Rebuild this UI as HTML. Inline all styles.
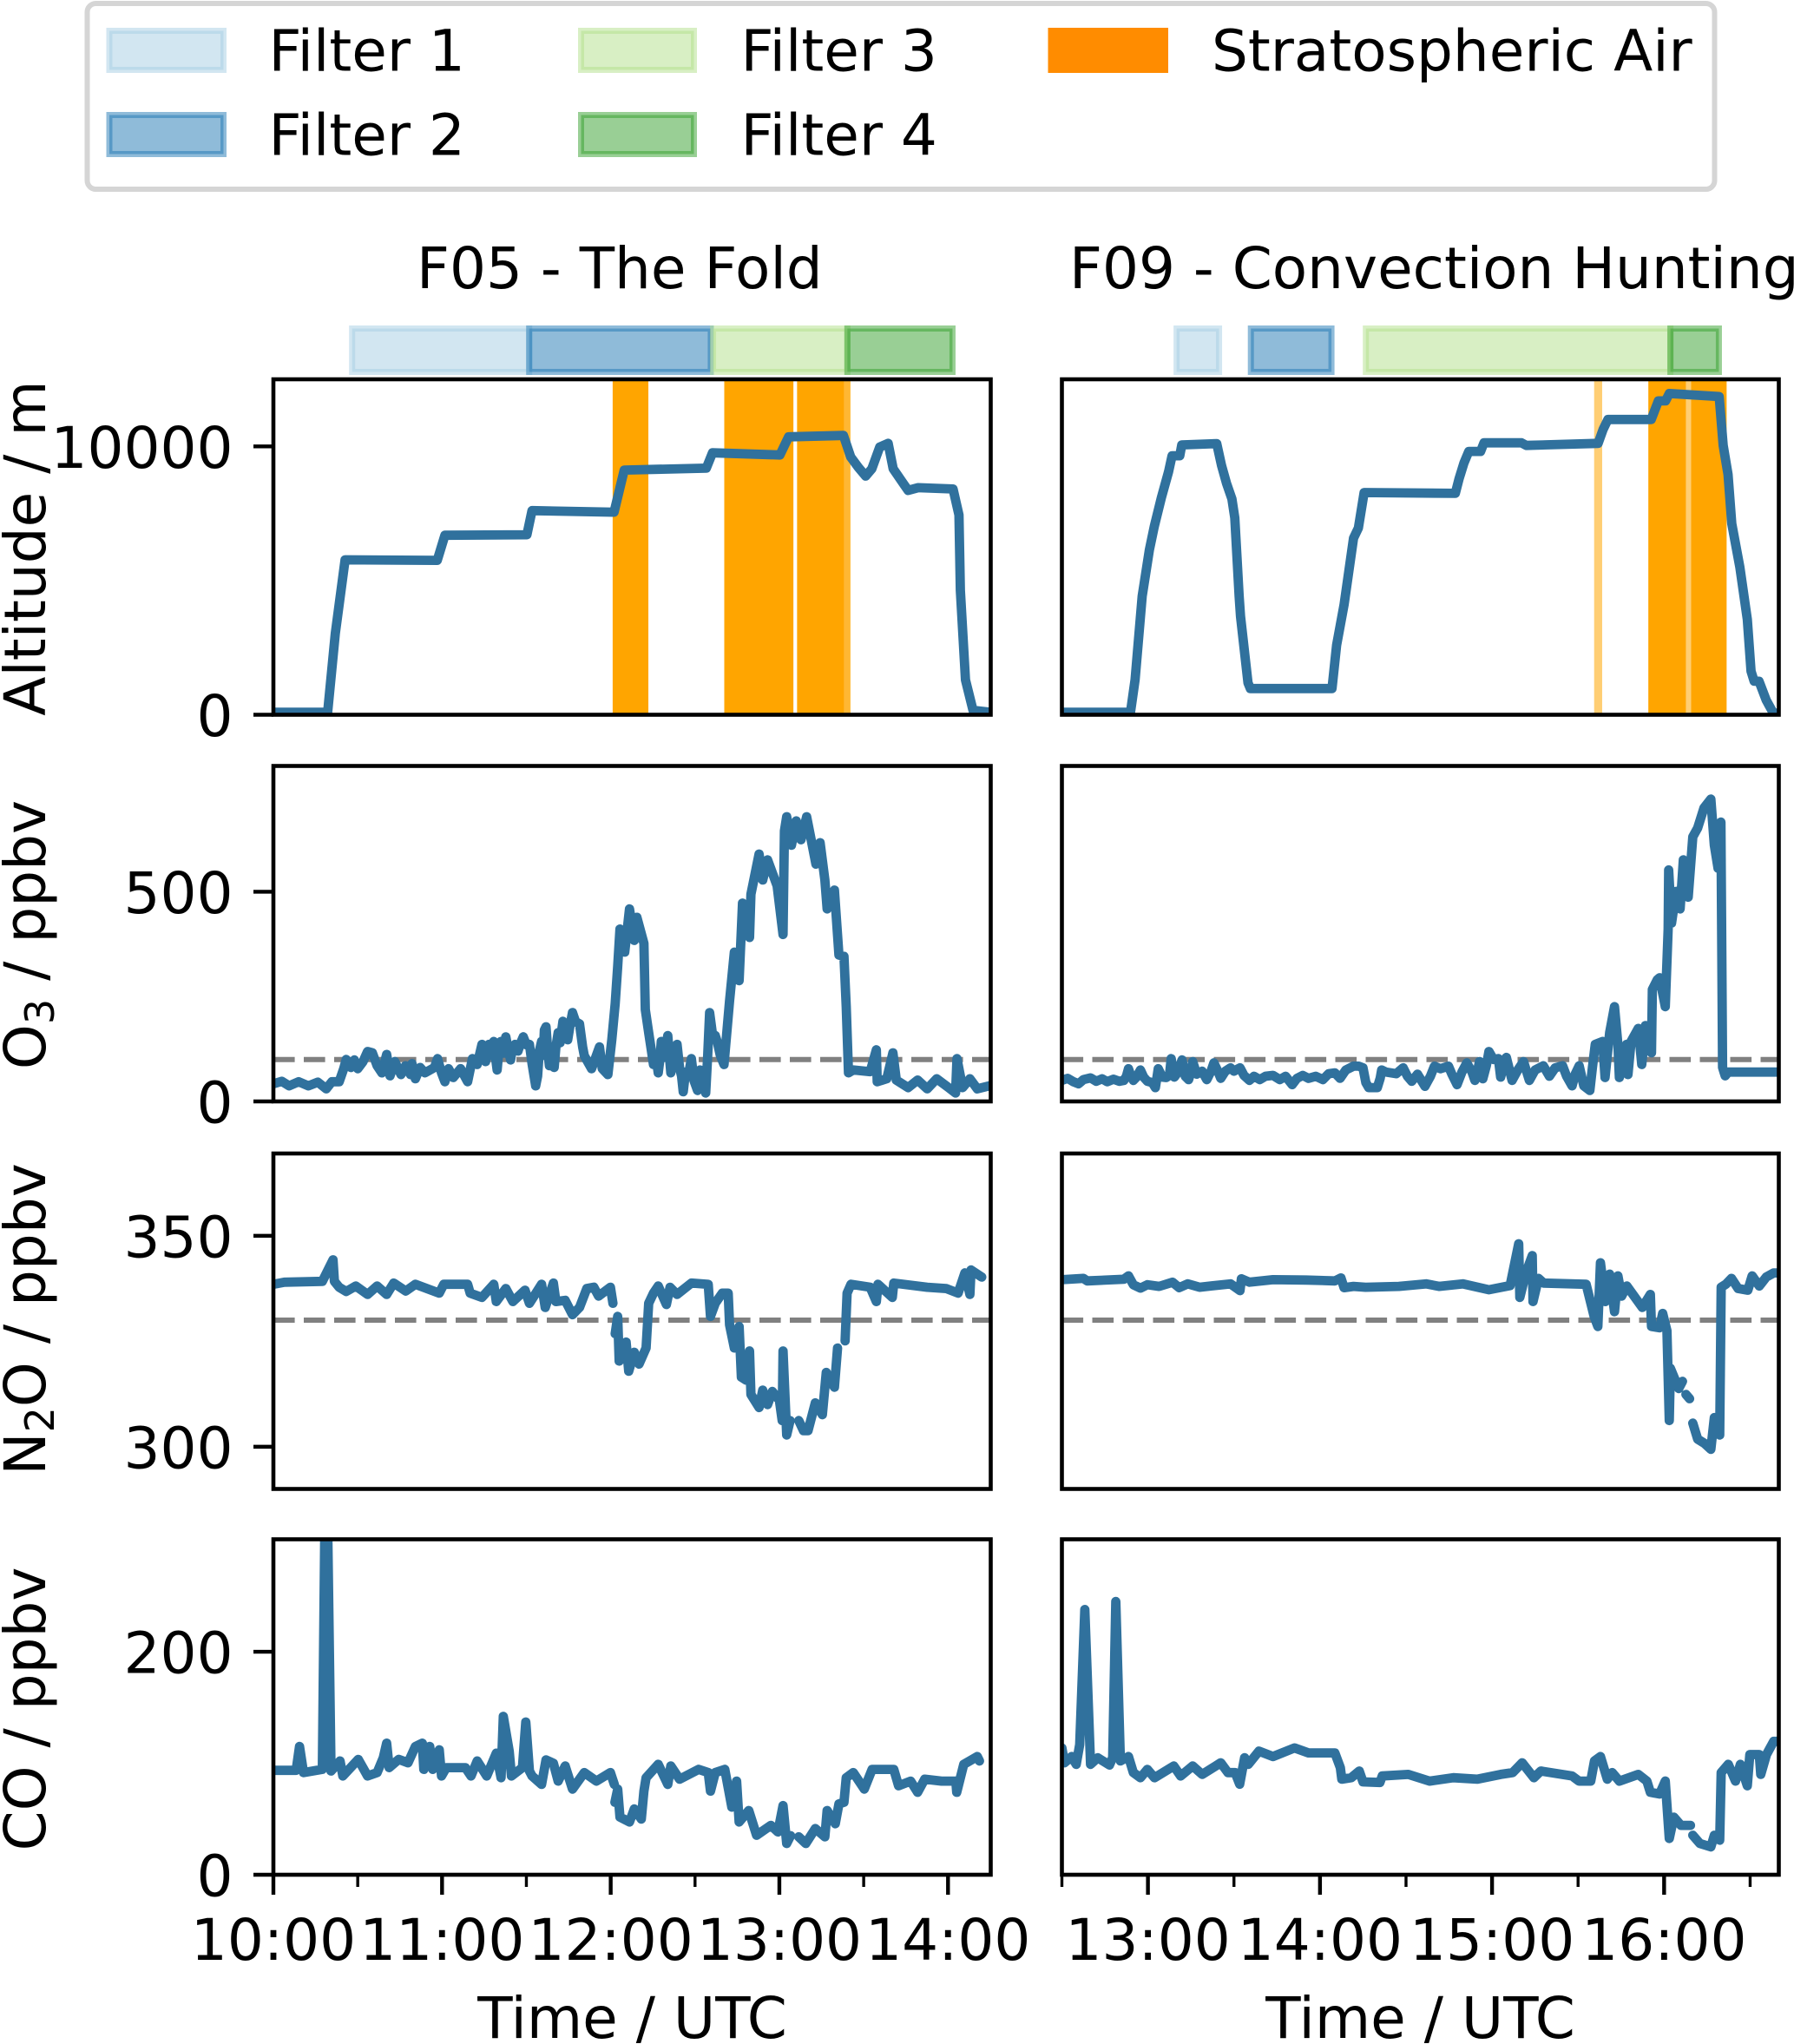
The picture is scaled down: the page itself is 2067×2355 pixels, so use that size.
<!DOCTYPE html>
<html lang="en">
<head>
<meta charset="utf-8">
<title>F05 and F09 flight time series</title>
<style>
html,body{margin:0;padding:0;background:#fff;width:2067px;height:2355px;overflow:hidden}
svg{display:block}
text{font-family:"DejaVu Sans","Liberation Sans",sans-serif;font-size:66px;fill:#000}
.f1{fill:#a6cee3;fill-opacity:.5;stroke:#a6cee3;stroke-opacity:.5;stroke-width:7}
.f2{fill:#1f78b4;fill-opacity:.5;stroke:#1f78b4;stroke-opacity:.5;stroke-width:7}
.f3{fill:#b2df8a;fill-opacity:.5;stroke:#b2df8a;stroke-opacity:.5;stroke-width:7}
.f4{fill:#33a02c;fill-opacity:.5;stroke:#33a02c;stroke-opacity:.5;stroke-width:7}
</style>
</head>
<body>
<svg id="figure" xmlns="http://www.w3.org/2000/svg" width="2067" height="2355" viewBox="0 0 2067 2355">
  <g>
    <rect x="100.5" y="4" width="1875" height="214" rx="10" ry="10" fill="#fff" stroke="#d5d5d5" stroke-width="6"/>
    <rect class="f1" x="126" y="35.5" width="131.5" height="45"/>
    <text x="309.5" y="81.5">Filter 1</text>
    <rect class="f2" x="126" y="132.5" width="131.5" height="45"/>
    <text x="309.5" y="178.5">Filter 2</text>
    <rect class="f3" x="669.5" y="35.5" width="130" height="45"/>
    <text x="853.5" y="81.5">Filter 3</text>
    <rect class="f4" x="669.5" y="132.5" width="130" height="45"/>
    <text x="853.5" y="178.5">Filter 4</text>
    <rect x="1207.5" y="32" width="138.5" height="52" fill="#ff8c00"/>
    <text x="1396" y="81.5">Stratospheric Air</text>
  </g>
  <text x="480" y="332">F05 - The Fold</text>
  <text x="1232" y="332">F09 - Convection Hunting</text>
  <text text-anchor="middle" transform="translate(52 631.5) rotate(-90)">Altitude / m</text>
  <text text-anchor="middle" transform="translate(52 1077) rotate(-90)">O<tspan dy="10" font-size="46">3</tspan><tspan dy="-10"> / ppbv</tspan></text>
  <text text-anchor="middle" transform="translate(52 1520) rotate(-90)">N<tspan dy="10" font-size="46">2</tspan><tspan dy="-10">O / ppbv</tspan></text>
  <text text-anchor="middle" transform="translate(52 1969) rotate(-90)">CO / ppbv</text>
  <text text-anchor="middle" x="728.5" y="2348">Time / UTC</text>
  <text text-anchor="middle" x="1636.5" y="2348">Time / UTC</text>
</svg>
<script>
// All times are minutes after the start of the panel's x axis (F05 10:00, F09 12:30).
const f05MajorTickMinutes = [0, 60, 120, 180, 240];
const f05TickLabels = ['10:00', '11:00', '12:00', '13:00', '14:00'];
const f05MinorTickMinutes = [30, 90, 150, 210];
const f09MajorTickMinutes = [30, 90, 150, 210];
const f09TickLabels = ['13:00', '14:00', '15:00', '16:00'];
const f09MinorTickMinutes = [0, 60, 120, 180, 240];

const altitudeTicks = [0, 10000];
const o3Ticks = [0, 500];
const n2oTicks = [300, 350];
const coTicks = [0, 200];
const o3Threshold = 100;
const n2oThreshold = 330;

const f05FilterStart = [28, 91, 156.4, 204.2];
const f05FilterEnd = [91, 155.6, 204.2, 241.6];
const f09FilterStart = [40, 65.9, 106, 212.2];
const f09FilterEnd = [54.8, 94, 212.2, 229.1];

const f05StratStart = [120.7, 160.4, 186.3];
const f05StratEnd = [133.4, 185, 203.1];
const f05FaintStart = [203.1];
const f05FaintEnd = [205.3];
const f09StratStart = [204.5, 219.4];
const f09StratEnd = [217.6, 231.8];
const f09FaintStart = [185.6, 217.6];
const f09FaintEnd = [188.4, 219.4];

const f05AltTime = [0,19.3,22,25.5,58.3,61,90.2,92,121.2,124.8,154,156.2,180.2,183.3,202.8,205.4,208.1,210.7,212.9,215.7,218.7,220.5,224,225.8,229.4,241.8,243.9,244.4,246.2,248.9,255.2];
const f05AltValues = [91,91,3022,5772,5752,6689,6709,7606,7550,9117,9187,9762,9681,10356,10406,9601,9218,8895,9167,9973,10114,9167,8628,8361,8462,8412,7445,4634,1300,166,91];
const f09AltTime = [0,23.9,25.5,28,30.5,32.2,34.7,37.2,38.4,41.1,41.8,54,55.7,57.4,59.3,60.3,61.8,62.3,64.9,65.7,94.2,95.8,98.4,101.7,103.4,105.4,137.2,138.5,140.2,141.9,146,147.2,160.3,162,187,188.7,190.4,205.5,208,210.5,211.8,229.2,230.6,232.3,233.6,236.4,239,240.3,241.4,243.1,245.6,248.1,249.9];
const f09AltValues = [91,91,1300,4422,6145,7012,8089,9057,9651,9651,10054,10104,9278,8633,8039,7334,4422,3667,1189,977,977,2589,4100,6578,6961,8281,8251,8795,9379,9812,9812,10134,10134,10034,10114,10628,11001,11001,11696,11696,11968,11857,10034,8956,7122,5500,3556,1622,1249,1249,544,60,60];

const f05O3Time = [0,3,5.6,9,12.4,15.8,18.8,20.8,23.4,25,25.9,27.6,28.8,30,31.9,33.5,35.2,36.9,38.6,40.3,41.5,43.2,45.4,47,48.8,49.3,50.5,52.2,53.9,57.3,58.4,59.8,61,62.3,64,66.6,69.1,70.8,72.5,
  74.2,75,75.5,76,76.7,77.5,78.4,79,79.6,80.2,81,82,82.7,83.5,84.4,85,86,87,88,88.9,90,91.1,92,93.3,94,94.6,95.4,96,96.4,97,97.6,98.2,99,99.9,100.5,101.3,102,103,104,104.7,105.5,106.4,107.5,108.9,110,110.6,
  113.2,116,117,119,120.4,121.6,122.5,123.3,125,126.7,128.4,129.3,131.8,132.3,
  133.5,134.5,135.2,136,136.9,137.5,138,139,140.3,141,141.4,142.5,143.6,144.5,145.2,145.8,146.6,147.6,148.7,149.6,150.9,151.8,152.8,153.8,154.5,155.2,156.2,157.2,158,159,160.3,
  162.3,164,165.7,166.9,169.4,169.9,172.8,174.1,175.8,179.2,181.3,181.8,182.6,184.3,186,187.7,189.7,191.9,193,194.5,196.2,197,199.6,201.2,203,203.8,204.6,206.3,212.3,214.5,214.8,218.2,220.4,221.6,225.8,229.2,232.6,236,240.2,242.7,243.2,245.2,247.8,250.4,254.6];
const f05O3Values = [42,48,37,47,37,46,30,47,47,78,100,81,99,78,95,119,116,85,68,112,61,95,64,85,64,90,54,81,68,81,102,68,47,78,57,78,47,102,88,
  136,100,95,130,136,110,143,105,75,120,143,115,154,125,99,125,136,120,140,154,135,136,90,37,60,120,143,110,170,178,120,85,120,81,130,164,140,191,150,147,180,212,190,185,130,109,
  78,130,78,64,147,233,322,411,356,459,384,439,377,219,
  164,120,88,110,68,100,143,105,157,100,68,105,136,80,60,23,70,60,102,50,26,75,50,20,110,212,160,157,140,110,88,
  240,356,288,473,391,494,590,528,576,514,398,645,679,611,669,624,679,604,566,617,528,459,504,349,346,226,68,75,71,123,47,54,116,51,33,51,30,54,33,20,102,33,54,30,37];
const f09O3Time = [0,2,4,5.8,7.5,10,12,14,15.8,18,20,21.6,22.5,23.2,24,24.9,26,27.4,28.5,29.8,31.5,32.6,33,33.6,35,36.4,37.5,38.1,39.2,40.5,41.9,43,44.2,45,45.6,47,48.9,50.5,52,53,54.5,55.4,57,58.8,60,61.5,62.1,63.5,65.4,67,69,71,73.6,76,78,80.3,82,84,86,88.5,91,93,95.2,97,99,101.7,103.5,105,106,107,110,111,111.5,113,116.6,119,120.5,122,124,126.6,128.5,129.9,132,134.8,136,137.8,139.5,141.2,143,144,145,145.6,146.8,148,148.9,150.5,152.2,153,154,155,157,159,161,163,165,167.9,170,172,174.6,176,177.9,179,180.4,182,184.1,185,
  186,188.6,189.4,191,192.7,193.9,194.4,196.9,197.4,198.5,201,202.2,203.5,205.6,205.9,207.6,208.4,210.4,211.4,211.6,212.6,214.2,215.6,216.7,218.4,220,221.7,223.9,226.3,227.5,228.8,229.8,230.4,231.3,232.4,249.9];
const f09O3Values = [50,55,47,42,52,56,48,54,47,53,48,50,60,78,62,50,58,75,58,48,45,33,50,78,58,57,62,102,58,70,99,60,52,70,95,65,72,52,72,92,70,55,72,80,72,78,80,62,50,60,52,60,62,52,60,40,55,62,55,60,52,66,68,55,75,84,84,80,45,33,33,55,75,70,66,80,60,48,65,36,60,84,78,84,65,40,70,92,70,50,75,95,54,85,119,100,102,58,85,105,50,75,95,50,75,85,60,80,85,60,37,65,85,37,26,80,
  136,143,57,164,226,136,57,136,64,143,174,88,181,116,267,290,295,226,411,552,425,501,459,576,487,631,652,700,721,611,556,666,81,61,70,70];

const f05N2OTime = [0,3.9,17.4,21.2,21.7,23.4,25.9,29.3,33.5,36.9,40.3,42.8,47.1,50.5,59,60.6,69.1,70,74.2,78.4,79.3,82.7,85.2,89.5,91.1,95.4,96.7,99.6,100.5,103.8,106.4,108.9,111.5,114,115.7,119.9,120.8,121,121.6,122.5,123,125.5,126.4,128.4,130.1,132.6,133.5,135.2,136.9,139.8,141.1,143.6,148.7,154.7,155.5,157.2,159.7,161.8,162.3,164,165.7,166.5,168.2,169.4,169.9,172.8,174.1,175.8,177.5,180,181,181.3,182.6,183.8,185,186.9,188.6,190.2,192.8,195.3,196.7,199.6,200.7,202,203.4,204.1,205.5,212.3,214.5,215.1,220.2,220.7,232.6,239.4,243.6,246,247.8,248.2,252];
const f05N2OValues = [338.5,339,339.2,344.3,339.2,337.8,336.8,338.1,336.1,338.1,336.1,338.8,336.9,338.5,336.4,338.5,338.5,336.4,335.4,338.5,334.4,337.5,334.4,337.1,334,338.5,333,338.8,334.4,334.7,331.3,333,337.5,337.8,335.7,337.8,334,null,326.8,330.9,320.3,324.8,317.9,322.4,319.6,323.4,334,336.4,338.1,333.7,337.8,336.1,338.8,338.5,330.9,334,336.4,336.4,328.9,323.4,328.5,316.5,315.8,322.7,312.4,309.3,313.4,310,313.1,311,306.2,322.7,302.8,306.2,null,306.2,303.8,303.8,310.4,307.6,317.6,314.1,323.4,null,325.1,336.4,338.5,337.8,334.4,338.5,335.4,338.8,337.8,337.5,336.4,341.2,336.1,341.9,340.2];
const f09N2OTime = [0,7.5,8.8,21.6,23.2,24.9,27.4,29.8,33.9,38.6,40.9,43.9,48,58.8,62.1,62.6,65.4,73.6,85.2,95.2,97.3,98.4,101.7,105.9,117.5,127,131.5,139.8,148.9,156.3,159.3,159.7,161.8,164,164.3,166.2,168,182.8,185.6,186.9,187.8,189.5,191,192.7,193.9,195.2,197,202.4,205.2,205.6,208.4,209.5,211,211.8,212.2,215.1,216.4,216.9,217.6,218.9,219.4,220,221.7,224.1,226.3,227.5,229.4,229.9,231.5,233.5,235.8,239.2,240.7,243.2,245.6,248.2,249.9];
const f09N2OValues = [339.6,339.9,339.3,339.7,340.5,338.4,337.6,338.4,338,339,337.7,338.6,337.8,338.6,337,339.8,339,339.6,339.5,339.3,340,337.7,338,337.8,338,338.6,338,338.6,337.2,338.2,348.1,335.4,341.2,345.3,334.4,339.9,338.8,338.5,330.9,328.5,343.6,334.4,340.9,332,340.5,335.7,338.1,333,336.1,328.5,328.2,331.6,327.5,306.2,318.6,313.8,315.5,null,312.4,311.4,null,305.6,301.8,300.8,299.4,306.9,302.8,337.8,338.5,339.9,337.5,337.1,340.5,338.1,340.2,341.2,341.2];

const f05COTime = [0,8.1,9.3,10.7,17.4,18.3,19.3,20.5,23.7,24.7,30.2,33.5,36.9,39.1,40.3,41.2,44.6,47.9,50.5,53,53.5,55.6,56.7,59,59.8,61.5,68.3,70.3,72.5,75.9,79.3,81,81.8,83.9,84.7,88.6,89.8,91.1,92,95.4,97,99.6,101.3,103.8,106.4,110.6,114.9,119.9,121.3,121.4,121.5,122.5,123.3,126.7,128.4,130.9,131.8,132.6,136.9,140.3,141.4,144.5,151.3,154.7,155.5,157.2,160.6,163.1,164.8,165.7,169.1,171.9,177,179.5,181.3,182.6,184,185,186.9,189.4,192.8,196.2,197,199.9,201.2,203,203.8,206.3,210.2,213,220.7,222.4,226.7,229.2,231.7,237.7,242.8,243.1,245.6,250.4,251.2];
const f05COValues = [93.6,93.6,115,91.6,94.5,315,315,93,102,88.6,103.4,88.6,91.6,104.9,118,96,103.4,100.4,115,118,94.5,115,94.5,112,88.6,96,96,88.6,102,88.6,109,87,142,110.8,88.6,96,137,93,88.6,81,103,100,84,97.5,76.8,91.6,84,91.6,81,null,65,76.8,51.7,47.3,59,50,75,87,99,81,97.5,85.7,94.5,91.6,75,91.6,94.5,60.6,84,47.3,57.6,35.4,44.3,38.4,62,28,35,null,34,28,41.4,34,57.6,45.8,63.5,65,87,91.6,76.8,94.5,94.5,79.8,84,73.9,85.7,84,84,73.9,99,106,102];
const f09COTime = [0,0.9,3.4,5,6.2,8,10,12.5,16.6,17.7,18.8,20.4,23.2,24.9,27.4,29.8,32.3,39,41.4,45.6,48.9,55.4,57.9,60.4,62,63.7,65,68.7,73.6,81.1,86,95.2,97.1,97.6,100.9,103.7,105,110.9,111.7,120.8,128.2,136.5,144.8,153,157.2,160.5,164.6,167,177.9,180.3,184.4,185.7,187.8,190.2,191.9,194.4,201,204,205.2,208.4,210.4,211.8,213.4,215.9,219.2,219.6,220,222.5,226.3,227.5,229.4,229.9,232.4,234.9,236.6,239,239.9,243.2,243.7,245.7,248.2,249.9];
const f09COValues = [113.7,100.4,106,99,116.7,237.8,99,104.9,98.4,105,245,102,106,91.6,87,94.5,87,97.5,88.6,97.5,90,100.4,91.6,91.6,81.2,104.9,99,110.8,106,113.7,109.3,109.3,96,85.7,87,93,83.3,82.7,88.6,90,84,87,85.7,90,91.6,100.4,87,93,88.6,84,84,102,106,85.7,91.6,84,90,84,73.9,72.4,84,32.5,51.7,44.3,44.3,null,35.4,28,25,35.4,31,91.6,99,84,99,79.8,107.8,107.8,90,107.8,119.6,119.6];

const svgNS = 'http://www.w3.org/2000/svg';
const figure = document.getElementById('figure');

const columns = [
  { id: 'f05', left: 315, right: 1141.5, maxMinutes: 255.2, major: f05MajorTickMinutes, labels: f05TickLabels, minor: f05MinorTickMinutes,
    filterStart: f05FilterStart, filterEnd: f05FilterEnd, stratStart: f05StratStart, stratEnd: f05StratEnd, faintStart: f05FaintStart, faintEnd: f05FaintEnd, faintOpacity: 0.8,
    series: [[f05AltTime, f05AltValues], [f05O3Time, f05O3Values], [f05N2OTime, f05N2OValues], [f05COTime, f05COValues]] },
  { id: 'f09', left: 1223.5, right: 2049.5, maxMinutes: 250, major: f09MajorTickMinutes, labels: f09TickLabels, minor: f09MinorTickMinutes,
    filterStart: f09FilterStart, filterEnd: f09FilterEnd, stratStart: f09StratStart, stratEnd: f09StratEnd, faintStart: f09FaintStart, faintEnd: f09FaintEnd, faintOpacity: 0.55,
    series: [[f09AltTime, f09AltValues], [f09O3Time, f09O3Values], [f09N2OTime, f09N2OValues], [f09COTime, f09COValues]] }
];
const rows = [
  { id: 'altitude', top: 437, bottom: 823.5, min: 0, max: 12500, ticks: altitudeTicks, threshold: null },
  { id: 'o3', top: 882.5, bottom: 1269, min: 0, max: 800, ticks: o3Ticks, threshold: o3Threshold },
  { id: 'n2o', top: 1329, bottom: 1715.5, min: 290, max: 369.5, ticks: n2oTicks, threshold: n2oThreshold },
  { id: 'co', top: 1773.5, bottom: 2160, min: 0, max: 300.8, ticks: coTicks, threshold: null }
];
const lineColor = '#30719d';

function xScale(col, minutes) {
  return col.left + (minutes / col.maxMinutes) * (col.right - col.left);
}
function yScale(row, value) {
  return row.bottom - ((value - row.min) / (row.max - row.min)) * (row.bottom - row.top);
}
function linePath(col, row, times, values) {
  let d = '';
  let pen = false;
  for (let i = 0; i < times.length; i++) {
    if (values[i] === null) { pen = false; continue; }
    d += (pen ? 'L' : 'M') + xScale(col, times[i]).toFixed(1) + ' ' + yScale(row, values[i]).toFixed(1);
    pen = true;
  }
  return d;
}
function setAll(el, attrs) {
  for (const k in attrs) el.setAttribute(k, attrs[k]);
  return el;
}

columns.forEach(function (col) {
  // filter bars above the top row
  col.filterStart.forEach(function (start, i) {
    const bar = document.createElementNS(svgNS, 'rect');
    
    
    setAll(bar, { x: xScale(col, start), y: 378.5, width: xScale(col, col.filterEnd[i]) - xScale(col, start), height: 50, class: 'f' + (i + 1) });
    figure.appendChild(bar);
  });

  rows.forEach(function (row, r) {
    const group = document.createElementNS(svgNS, 'g');
    
    
    figure.appendChild(group);

    const clip = document.createElementNS(svgNS, 'clipPath');
    clip.setAttribute('id', 'clip-' + col.id + '-' + row.id);
    const clipRect = document.createElementNS(svgNS, 'rect');
    setAll(clipRect, { x: col.left, y: row.top, width: col.right - col.left, height: row.bottom - row.top });
    clip.appendChild(clipRect);
    group.appendChild(clip);

    if (r === 0) {
      col.stratStart.forEach(function (start, i) {
        const span = document.createElementNS(svgNS, 'rect');
        
        
        setAll(span, { x: xScale(col, start), y: row.top, width: xScale(col, col.stratEnd[i]) - xScale(col, start), height: row.bottom - row.top, fill: '#ffa500' });
        group.appendChild(span);
      });
      col.faintStart.forEach(function (start, i) {
        const span = document.createElementNS(svgNS, 'rect');
        
        
        setAll(span, { x: xScale(col, start), y: row.top, width: xScale(col, col.faintEnd[i]) - xScale(col, start), height: row.bottom - row.top, fill: '#ffa500', 'fill-opacity': col.faintOpacity });
        group.appendChild(span);
      });
    }

    if (row.threshold !== null) {
      const dash = document.createElementNS(svgNS, 'line');
      
      
      setAll(dash, { x1: col.left, x2: col.right, y1: yScale(row, row.threshold), y2: yScale(row, row.threshold), stroke: '#808080', 'stroke-width': 6, 'stroke-dasharray': '24.6 10.4' });
      group.appendChild(dash);
    }

    const path = document.createElementNS(svgNS, 'path');
    
    
    setAll(path, { d: linePath(col, row, col.series[r][0], col.series[r][1]), fill: 'none', stroke: lineColor, 'stroke-width': 10.8, 'stroke-linejoin': 'round', 'stroke-linecap': 'round', 'clip-path': 'url(#clip-' + col.id + '-' + row.id + ')' });
    group.appendChild(path);

    const spine = document.createElementNS(svgNS, 'rect');
    
    
    setAll(spine, { x: col.left, y: row.top, width: col.right - col.left, height: row.bottom - row.top, fill: 'none', stroke: '#000', 'stroke-width': 4.6 });
    group.appendChild(spine);

    if (col.id === 'f05') {
      row.ticks.forEach(function (value) {
        const tick = document.createElementNS(svgNS, 'line');
        
        
        setAll(tick, { x1: col.left - 23, x2: col.left, y1: yScale(row, value), y2: yScale(row, value), stroke: '#000', 'stroke-width': 4.4 });
        group.appendChild(tick);
        const label = document.createElementNS(svgNS, 'text');
        
        
        setAll(label, { x: 268.5, y: yScale(row, value) + 24.5, 'text-anchor': 'end' });
        label.textContent = String(value);
        group.appendChild(label);
      });
    }

    if (r === rows.length - 1) {
      col.major.forEach(function (minutes, i) {
        const tick = document.createElementNS(svgNS, 'line');
        
        
        setAll(tick, { x1: xScale(col, minutes), x2: xScale(col, minutes), y1: row.bottom, y2: row.bottom + 23, stroke: '#000', 'stroke-width': 4.4 });
        group.appendChild(tick);
        const label = document.createElementNS(svgNS, 'text');
        
        
        setAll(label, { x: xScale(col, minutes), y: 2258, 'text-anchor': 'middle' });
        label.textContent = col.labels[i];
        group.appendChild(label);
      });
      col.minor.forEach(function (minutes) {
        const tick = document.createElementNS(svgNS, 'line');
        
        
        setAll(tick, { x1: xScale(col, minutes), x2: xScale(col, minutes), y1: row.bottom, y2: row.bottom + 14, stroke: '#000', 'stroke-width': 3.4 });
        group.appendChild(tick);
      });
    }
  });
});
</script>
</body>
</html>
